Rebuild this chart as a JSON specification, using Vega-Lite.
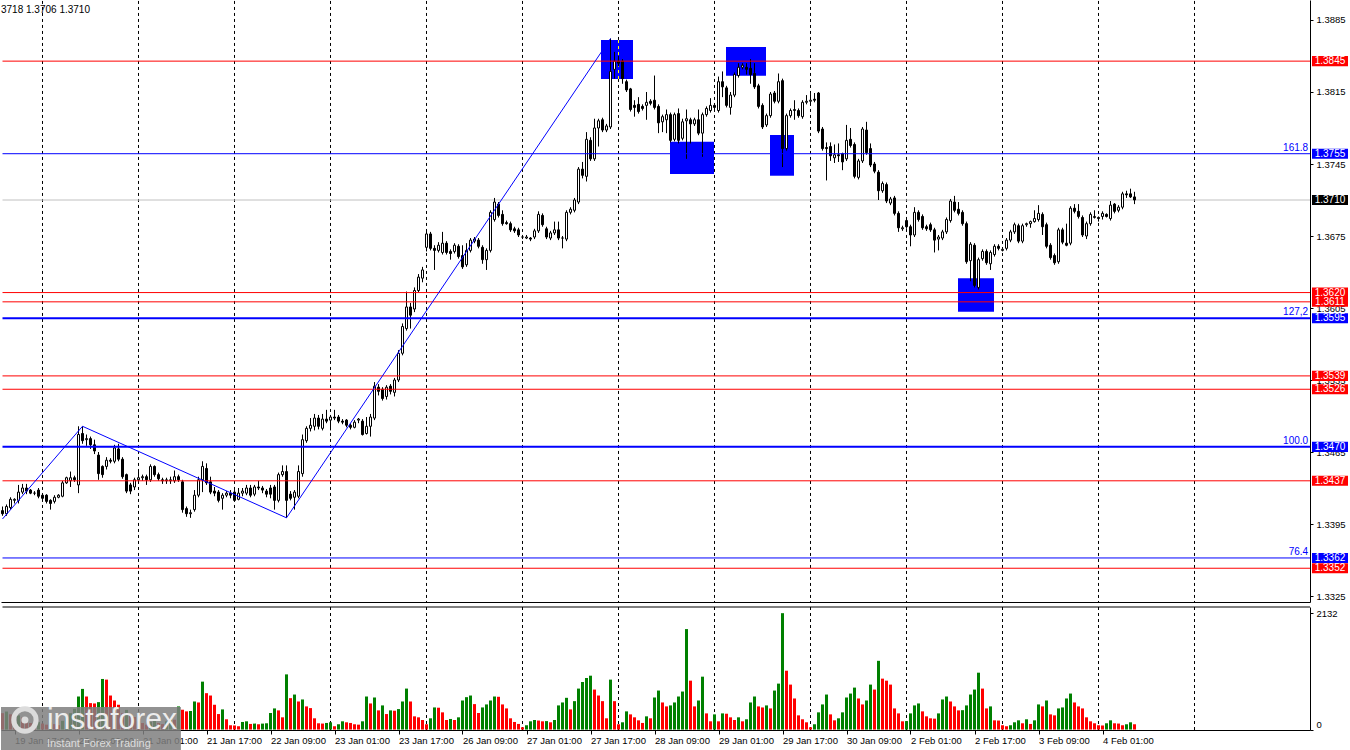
{
"$schema": "https://vega.github.io/schema/vega-lite/v6.json",
"background": "white",
"padding": 0,
"spacing": 3,
"config": {"view": {"stroke": null}, "font": "Liberation Sans",
  "scale": {"continuousPadding": 0},
  "axis": {"labelFont": "Liberation Sans", "labelFontSize": 9.5, "labelColor": "black", "tickColor": "black", "domainColor": "black", "labelOverlap": false, "labelFlush": false, "labelBound": false, "title": null, "grid": false}},
"datasets": {
"bars": [
{"i":0,"o":1.3408,"h":1.3412,"l":1.3403,"c":1.3405,"v":300},
{"i":1,"o":1.3405,"h":1.3414,"l":1.3403,"c":1.3412,"v":330},
{"i":2,"o":1.3411,"h":1.3421,"l":1.3409,"c":1.3419,"v":280},
{"i":3,"o":1.3418,"h":1.3420,"l":1.3415,"c":1.3419,"v":200},
{"i":4,"o":1.3418,"h":1.3433,"l":1.3415,"c":1.3426,"v":260},
{"i":5,"o":1.3426,"h":1.3434,"l":1.3424,"c":1.3430,"v":220},
{"i":6,"o":1.3430,"h":1.3434,"l":1.3424,"c":1.3427,"v":150},
{"i":7,"o":1.3428,"h":1.3429,"l":1.3424,"c":1.3425,"v":120},
{"i":8,"o":1.3425,"h":1.3427,"l":1.3423,"c":1.3425,"v":90},
{"i":9,"o":1.3428,"h":1.3430,"l":1.3420,"c":1.3422,"v":140},
{"i":10,"o":1.3423,"h":1.3424,"l":1.3419,"c":1.3420,"v":110},
{"i":11,"o":1.3423,"h":1.3424,"l":1.3415,"c":1.3417,"v":90},
{"i":12,"o":1.3418,"h":1.3419,"l":1.3409,"c":1.3415,"v":130},
{"i":13,"o":1.3417,"h":1.3423,"l":1.3415,"c":1.3421,"v":100},
{"i":14,"o":1.3421,"h":1.3424,"l":1.3420,"c":1.3423,"v":80},
{"i":15,"o":1.3422,"h":1.3437,"l":1.3421,"c":1.3435,"v":160},
{"i":16,"o":1.3435,"h":1.3441,"l":1.3434,"c":1.3440,"v":250},
{"i":17,"o":1.3437,"h":1.3446,"l":1.3431,"c":1.3440,"v":300},
{"i":18,"o":1.3440,"h":1.3442,"l":1.3436,"c":1.3438,"v":380},
{"i":19,"o":1.3433,"h":1.3490,"l":1.3425,"c":1.3482,"v":605},
{"i":20,"o":1.3483,"h":1.3490,"l":1.3473,"c":1.3476,"v":744},
{"i":21,"o":1.3477,"h":1.3482,"l":1.3471,"c":1.3478,"v":605},
{"i":22,"o":1.3478,"h":1.3480,"l":1.3468,"c":1.3472,"v":484},
{"i":23,"o":1.3472,"h":1.3477,"l":1.3463,"c":1.3466,"v":478},
{"i":24,"o":1.3462,"h":1.3465,"l":1.3438,"c":1.3444,"v":502},
{"i":25,"o":1.3451,"h":1.3452,"l":1.3440,"c":1.3443,"v":926},
{"i":26,"o":1.3451,"h":1.3460,"l":1.3448,"c":1.3457,"v":914},
{"i":27,"o":1.3457,"h":1.3459,"l":1.3454,"c":1.3456,"v":623},
{"i":28,"o":1.3456,"h":1.3472,"l":1.3454,"c":1.3469,"v":532},
{"i":29,"o":1.3468,"h":1.3473,"l":1.3456,"c":1.3458,"v":454},
{"i":30,"o":1.3458,"h":1.3460,"l":1.3439,"c":1.3441,"v":300},
{"i":31,"o":1.3443,"h":1.3444,"l":1.3425,"c":1.3427,"v":360},
{"i":32,"o":1.3433,"h":1.3435,"l":1.3424,"c":1.3427,"v":280},
{"i":33,"o":1.3431,"h":1.3440,"l":1.3428,"c":1.3438,"v":230},
{"i":34,"o":1.3438,"h":1.3446,"l":1.3436,"c":1.3440,"v":150},
{"i":35,"o":1.3440,"h":1.3443,"l":1.3437,"c":1.3441,"v":120},
{"i":36,"o":1.3441,"h":1.3443,"l":1.3433,"c":1.3438,"v":90},
{"i":37,"o":1.3438,"h":1.3453,"l":1.3436,"c":1.3451,"v":140},
{"i":38,"o":1.3451,"h":1.3452,"l":1.3441,"c":1.3443,"v":170},
{"i":39,"o":1.3443,"h":1.3445,"l":1.3437,"c":1.3439,"v":120},
{"i":40,"o":1.3438,"h":1.3440,"l":1.3434,"c":1.3437,"v":100},
{"i":41,"o":1.3437,"h":1.3440,"l":1.3434,"c":1.3438,"v":150},
{"i":42,"o":1.3437,"h":1.3441,"l":1.3434,"c":1.3438,"v":200},
{"i":43,"o":1.3437,"h":1.3447,"l":1.3435,"c":1.3441,"v":180},
{"i":44,"o":1.3441,"h":1.3443,"l":1.3436,"c":1.3438,"v":424},
{"i":45,"o":1.3436,"h":1.3438,"l":1.3406,"c":1.3409,"v":363},
{"i":46,"o":1.3410,"h":1.3412,"l":1.3402,"c":1.3405,"v":333},
{"i":47,"o":1.3405,"h":1.3409,"l":1.3401,"c":1.3406,"v":340},
{"i":48,"o":1.3409,"h":1.3428,"l":1.3407,"c":1.3423,"v":514},
{"i":49,"o":1.3423,"h":1.3441,"l":1.3421,"c":1.3438,"v":496},
{"i":50,"o":1.3438,"h":1.3456,"l":1.3426,"c":1.3451,"v":877},
{"i":51,"o":1.3449,"h":1.3454,"l":1.3433,"c":1.3435,"v":666},
{"i":52,"o":1.3436,"h":1.3441,"l":1.3424,"c":1.3426,"v":623},
{"i":53,"o":1.3427,"h":1.3431,"l":1.3422,"c":1.3425,"v":454},
{"i":54,"o":1.3426,"h":1.3428,"l":1.3416,"c":1.3418,"v":284},
{"i":55,"o":1.3420,"h":1.3425,"l":1.3409,"c":1.3423,"v":369},
{"i":56,"o":1.3423,"h":1.3427,"l":1.3421,"c":1.3425,"v":188},
{"i":57,"o":1.3425,"h":1.3428,"l":1.3420,"c":1.3423,"v":79},
{"i":58,"o":1.3426,"h":1.3428,"l":1.3417,"c":1.3418,"v":75},
{"i":59,"o":1.3419,"h":1.3430,"l":1.3418,"c":1.3425,"v":61},
{"i":60,"o":1.3425,"h":1.3430,"l":1.3422,"c":1.3427,"v":139},
{"i":61,"o":1.3425,"h":1.3433,"l":1.3423,"c":1.3430,"v":151},
{"i":62,"o":1.3430,"h":1.3433,"l":1.3421,"c":1.3423,"v":103},
{"i":63,"o":1.3424,"h":1.3433,"l":1.3422,"c":1.3431,"v":109},
{"i":64,"o":1.3431,"h":1.3437,"l":1.3428,"c":1.3430,"v":97},
{"i":65,"o":1.3430,"h":1.3432,"l":1.3425,"c":1.3428,"v":109},
{"i":66,"o":1.3427,"h":1.3429,"l":1.3421,"c":1.3424,"v":115},
{"i":67,"o":1.3430,"h":1.3433,"l":1.3420,"c":1.3424,"v":303},
{"i":68,"o":1.3431,"h":1.3433,"l":1.3409,"c":1.3418,"v":387},
{"i":69,"o":1.3418,"h":1.3445,"l":1.3416,"c":1.3443,"v":351},
{"i":70,"o":1.3443,"h":1.3452,"l":1.3441,"c":1.3446,"v":224},
{"i":71,"o":1.3446,"h":1.3452,"l":1.3401,"c":1.3418,"v":1010},
{"i":72,"o":1.3424,"h":1.3427,"l":1.3418,"c":1.3420,"v":575},
{"i":73,"o":1.3421,"h":1.3428,"l":1.3409,"c":1.3426,"v":641},
{"i":74,"o":1.3422,"h":1.3452,"l":1.3420,"c":1.3446,"v":514},
{"i":75,"o":1.3444,"h":1.3482,"l":1.3441,"c":1.3477,"v":551},
{"i":76,"o":1.3476,"h":1.3490,"l":1.3474,"c":1.3488,"v":424},
{"i":77,"o":1.3488,"h":1.3498,"l":1.3485,"c":1.3491,"v":393},
{"i":78,"o":1.3490,"h":1.3502,"l":1.3486,"c":1.3498,"v":206},
{"i":79,"o":1.3498,"h":1.3501,"l":1.3487,"c":1.3490,"v":115},
{"i":80,"o":1.3488,"h":1.3502,"l":1.3486,"c":1.3497,"v":110},
{"i":81,"o":1.3497,"h":1.3506,"l":1.3493,"c":1.3495,"v":121},
{"i":82,"o":1.3496,"h":1.3501,"l":1.3486,"c":1.3499,"v":133},
{"i":83,"o":1.3499,"h":1.3506,"l":1.3496,"c":1.3498,"v":61},
{"i":84,"o":1.3499,"h":1.3501,"l":1.3493,"c":1.3495,"v":97},
{"i":85,"o":1.3495,"h":1.3497,"l":1.3492,"c":1.3494,"v":151},
{"i":86,"o":1.3496,"h":1.3497,"l":1.3489,"c":1.3491,"v":133},
{"i":87,"o":1.3491,"h":1.3493,"l":1.3487,"c":1.3489,"v":121},
{"i":88,"o":1.3489,"h":1.3496,"l":1.3488,"c":1.3494,"v":97},
{"i":89,"o":1.3496,"h":1.3498,"l":1.3493,"c":1.3497,"v":90},
{"i":90,"o":1.3495,"h":1.3497,"l":1.3481,"c":1.3482,"v":151},
{"i":91,"o":1.3483,"h":1.3499,"l":1.3482,"c":1.3490,"v":605},
{"i":92,"o":1.3490,"h":1.3502,"l":1.3480,"c":1.3499,"v":478},
{"i":93,"o":1.3498,"h":1.3533,"l":1.3496,"c":1.3529,"v":587},
{"i":94,"o":1.3528,"h":1.3531,"l":1.3520,"c":1.3524,"v":351},
{"i":95,"o":1.3526,"h":1.3528,"l":1.3515,"c":1.3517,"v":442},
{"i":96,"o":1.3519,"h":1.3530,"l":1.3516,"c":1.3528,"v":284},
{"i":97,"o":1.3529,"h":1.3531,"l":1.3521,"c":1.3524,"v":351},
{"i":98,"o":1.3523,"h":1.3537,"l":1.3519,"c":1.3535,"v":345},
{"i":99,"o":1.3535,"h":1.3564,"l":1.3533,"c":1.3561,"v":375},
{"i":100,"o":1.3561,"h":1.3590,"l":1.3559,"c":1.3587,"v":514},
{"i":101,"o":1.3585,"h":1.3621,"l":1.3583,"c":1.3606,"v":750},
{"i":102,"o":1.3606,"h":1.3610,"l":1.3585,"c":1.3598,"v":514},
{"i":103,"o":1.3604,"h":1.3625,"l":1.3601,"c":1.3622,"v":242},
{"i":104,"o":1.3622,"h":1.3638,"l":1.3620,"c":1.3635,"v":224},
{"i":105,"o":1.3634,"h":1.3645,"l":1.3630,"c":1.3642,"v":175},
{"i":106,"o":1.3664,"h":1.3679,"l":1.3660,"c":1.3677,"v":97},
{"i":107,"o":1.3677,"h":1.3679,"l":1.3661,"c":1.3663,"v":206},
{"i":108,"o":1.3663,"h":1.3666,"l":1.3642,"c":1.3661,"v":405},
{"i":109,"o":1.3661,"h":1.3669,"l":1.3659,"c":1.3666,"v":400},
{"i":110,"o":1.3659,"h":1.3679,"l":1.3657,"c":1.3668,"v":315},
{"i":111,"o":1.3668,"h":1.3670,"l":1.3657,"c":1.3659,"v":175},
{"i":112,"o":1.3660,"h":1.3662,"l":1.3652,"c":1.3658,"v":194},
{"i":113,"o":1.3660,"h":1.3668,"l":1.3658,"c":1.3666,"v":175},
{"i":114,"o":1.3665,"h":1.3667,"l":1.3653,"c":1.3655,"v":224},
{"i":115,"o":1.3656,"h":1.3666,"l":1.3643,"c":1.3645,"v":532},
{"i":116,"o":1.3647,"h":1.3668,"l":1.3645,"c":1.3661,"v":593},
{"i":117,"o":1.3661,"h":1.3673,"l":1.3659,"c":1.3671,"v":623},
{"i":118,"o":1.3670,"h":1.3674,"l":1.3668,"c":1.3672,"v":466},
{"i":119,"o":1.3671,"h":1.3673,"l":1.3663,"c":1.3665,"v":303},
{"i":120,"o":1.3664,"h":1.3666,"l":1.3648,"c":1.3652,"v":405},
{"i":121,"o":1.3652,"h":1.3663,"l":1.3642,"c":1.3661,"v":460},
{"i":122,"o":1.3661,"h":1.3700,"l":1.3659,"c":1.3698,"v":532},
{"i":123,"o":1.3691,"h":1.3712,"l":1.3689,"c":1.3708,"v":605},
{"i":124,"o":1.3706,"h":1.3708,"l":1.3693,"c":1.3695,"v":600},
{"i":125,"o":1.3696,"h":1.3700,"l":1.3685,"c":1.3687,"v":460},
{"i":126,"o":1.3688,"h":1.3690,"l":1.3686,"c":1.3687,"v":387},
{"i":127,"o":1.3687,"h":1.3689,"l":1.3679,"c":1.3681,"v":206},
{"i":128,"o":1.3682,"h":1.3684,"l":1.3678,"c":1.3680,"v":139},
{"i":129,"o":1.3681,"h":1.3683,"l":1.3674,"c":1.3676,"v":103},
{"i":130,"o":1.3674,"h":1.3676,"l":1.3672,"c":1.3674,"v":42},
{"i":131,"o":1.3673,"h":1.3676,"l":1.3672,"c":1.3674,"v":79},
{"i":132,"o":1.3673,"h":1.3674,"l":1.3670,"c":1.3672,"v":151},
{"i":133,"o":1.3674,"h":1.3682,"l":1.3672,"c":1.3680,"v":175},
{"i":134,"o":1.3680,"h":1.3699,"l":1.3678,"c":1.3696,"v":165},
{"i":135,"o":1.3695,"h":1.3697,"l":1.3684,"c":1.3686,"v":151},
{"i":136,"o":1.3682,"h":1.3684,"l":1.3672,"c":1.3674,"v":155},
{"i":137,"o":1.3673,"h":1.3680,"l":1.3671,"c":1.3678,"v":133},
{"i":138,"o":1.3678,"h":1.3689,"l":1.3676,"c":1.3681,"v":175},
{"i":139,"o":1.3681,"h":1.3689,"l":1.3671,"c":1.3673,"v":442},
{"i":140,"o":1.3673,"h":1.3675,"l":1.3663,"c":1.3673,"v":496},
{"i":141,"o":1.3672,"h":1.3700,"l":1.3670,"c":1.3698,"v":581},
{"i":142,"o":1.3698,"h":1.3703,"l":1.3696,"c":1.3701,"v":369},
{"i":143,"o":1.3700,"h":1.3712,"l":1.3698,"c":1.3710,"v":520},
{"i":144,"o":1.3708,"h":1.3742,"l":1.3706,"c":1.3740,"v":750},
{"i":145,"o":1.3740,"h":1.3747,"l":1.3731,"c":1.3734,"v":871},
{"i":146,"o":1.3733,"h":1.3776,"l":1.3728,"c":1.3769,"v":944},
{"i":147,"o":1.3768,"h":1.3771,"l":1.3748,"c":1.3750,"v":986},
{"i":148,"o":1.3750,"h":1.3789,"l":1.3748,"c":1.3780,"v":732},
{"i":149,"o":1.3780,"h":1.3789,"l":1.3762,"c":1.3787,"v":623},
{"i":150,"o":1.3788,"h":1.3790,"l":1.3776,"c":1.3778,"v":520},
{"i":151,"o":1.3778,"h":1.3784,"l":1.3776,"c":1.3782,"v":206},
{"i":152,"o":1.3781,"h":1.3867,"l":1.3779,"c":1.3835,"v":914},
{"i":153,"o":1.3837,"h":1.3854,"l":1.3828,"c":1.3845,"v":520},
{"i":154,"o":1.3845,"h":1.3850,"l":1.3840,"c":1.3843,"v":97},
{"i":155,"o":1.3845,"h":1.3847,"l":1.3823,"c":1.3828,"v":133},
{"i":156,"o":1.3825,"h":1.3827,"l":1.3815,"c":1.3817,"v":333},
{"i":157,"o":1.3818,"h":1.3819,"l":1.3796,"c":1.3798,"v":278},
{"i":158,"o":1.3802,"h":1.3807,"l":1.3791,"c":1.3800,"v":224},
{"i":159,"o":1.3803,"h":1.3810,"l":1.3794,"c":1.3796,"v":169},
{"i":160,"o":1.3801,"h":1.3803,"l":1.3797,"c":1.3799,"v":121},
{"i":161,"o":1.3802,"h":1.3815,"l":1.3788,"c":1.3805,"v":242},
{"i":162,"o":1.3806,"h":1.3808,"l":1.3802,"c":1.3804,"v":206},
{"i":163,"o":1.3807,"h":1.3831,"l":1.3798,"c":1.3800,"v":587},
{"i":164,"o":1.3801,"h":1.3803,"l":1.3775,"c":1.3785,"v":714},
{"i":165,"o":1.3786,"h":1.3793,"l":1.3776,"c":1.3791,"v":496},
{"i":166,"o":1.3788,"h":1.3798,"l":1.3775,"c":1.3793,"v":424},
{"i":167,"o":1.3793,"h":1.3795,"l":1.3766,"c":1.3768,"v":442},
{"i":168,"o":1.3769,"h":1.3795,"l":1.3767,"c":1.3793,"v":496},
{"i":169,"o":1.3794,"h":1.3799,"l":1.3765,"c":1.3768,"v":605},
{"i":170,"o":1.3770,"h":1.3789,"l":1.3768,"c":1.3786,"v":696},
{"i":171,"o":1.3787,"h":1.3798,"l":1.3750,"c":1.3789,"v":1839},
{"i":172,"o":1.3788,"h":1.3790,"l":1.3765,"c":1.3784,"v":895},
{"i":173,"o":1.3784,"h":1.3790,"l":1.3782,"c":1.3788,"v":424},
{"i":174,"o":1.3788,"h":1.3798,"l":1.3773,"c":1.3775,"v":532},
{"i":175,"o":1.3775,"h":1.3795,"l":1.3752,"c":1.3793,"v":968},
{"i":176,"o":1.3793,"h":1.3801,"l":1.3791,"c":1.3799,"v":296},
{"i":177,"o":1.3797,"h":1.3809,"l":1.3795,"c":1.3802,"v":151},
{"i":178,"o":1.3802,"h":1.3804,"l":1.3798,"c":1.3800,"v":278},
{"i":179,"o":1.3797,"h":1.3830,"l":1.3795,"c":1.3825,"v":151},
{"i":180,"o":1.3825,"h":1.3835,"l":1.3810,"c":1.3820,"v":296},
{"i":181,"o":1.3819,"h":1.3821,"l":1.3800,"c":1.3802,"v":290},
{"i":182,"o":1.3800,"h":1.3815,"l":1.3793,"c":1.3812,"v":224},
{"i":183,"o":1.3812,"h":1.3834,"l":1.3810,"c":1.3832,"v":175},
{"i":184,"o":1.3831,"h":1.3843,"l":1.3829,"c":1.3839,"v":224},
{"i":185,"o":1.3839,"h":1.3843,"l":1.3837,"c":1.3841,"v":151},
{"i":186,"o":1.3839,"h":1.3843,"l":1.3832,"c":1.3837,"v":188},
{"i":187,"o":1.3838,"h":1.3847,"l":1.3823,"c":1.3832,"v":496},
{"i":188,"o":1.3833,"h":1.3843,"l":1.3818,"c":1.3820,"v":605},
{"i":189,"o":1.3821,"h":1.3823,"l":1.3799,"c":1.3801,"v":424},
{"i":190,"o":1.3802,"h":1.3804,"l":1.3779,"c":1.3781,"v":405},
{"i":191,"o":1.3783,"h":1.3794,"l":1.3781,"c":1.3792,"v":442},
{"i":192,"o":1.3792,"h":1.3815,"l":1.3790,"c":1.3813,"v":387},
{"i":193,"o":1.3814,"h":1.3816,"l":1.3804,"c":1.3806,"v":714},
{"i":194,"o":1.3806,"h":1.3833,"l":1.3804,"c":1.3825,"v":841},
{"i":195,"o":1.3826,"h":1.3828,"l":1.3742,"c":1.3760,"v":2130},
{"i":196,"o":1.3760,"h":1.3794,"l":1.3758,"c":1.3792,"v":1077},
{"i":197,"o":1.3792,"h":1.3799,"l":1.3790,"c":1.3797,"v":823},
{"i":198,"o":1.3797,"h":1.3807,"l":1.3788,"c":1.3798,"v":569},
{"i":199,"o":1.3797,"h":1.3799,"l":1.3790,"c":1.3792,"v":260},
{"i":200,"o":1.3791,"h":1.3807,"l":1.3789,"c":1.3805,"v":188},
{"i":201,"o":1.3805,"h":1.3812,"l":1.3803,"c":1.3806,"v":133},
{"i":202,"o":1.3806,"h":1.3813,"l":1.3804,"c":1.3807,"v":42},
{"i":203,"o":1.3808,"h":1.3814,"l":1.3805,"c":1.3807,"v":97},
{"i":204,"o":1.3814,"h":1.3815,"l":1.3775,"c":1.3777,"v":315},
{"i":205,"o":1.3779,"h":1.3781,"l":1.3758,"c":1.3760,"v":460},
{"i":206,"o":1.3761,"h":1.3766,"l":1.3729,"c":1.3760,"v":641},
{"i":207,"o":1.3762,"h":1.3766,"l":1.3748,"c":1.3753,"v":278},
{"i":208,"o":1.3751,"h":1.3764,"l":1.3746,"c":1.3754,"v":169},
{"i":209,"o":1.3754,"h":1.3765,"l":1.3747,"c":1.3753,"v":206},
{"i":210,"o":1.3755,"h":1.3756,"l":1.3739,"c":1.3747,"v":315},
{"i":211,"o":1.3750,"h":1.3783,"l":1.3748,"c":1.3768,"v":587},
{"i":212,"o":1.3769,"h":1.3780,"l":1.3761,"c":1.3763,"v":659},
{"i":213,"o":1.3764,"h":1.3766,"l":1.3731,"c":1.3733,"v":768},
{"i":214,"o":1.3732,"h":1.3750,"l":1.3730,"c":1.3748,"v":569},
{"i":215,"o":1.3748,"h":1.3781,"l":1.3746,"c":1.3779,"v":460},
{"i":216,"o":1.3778,"h":1.3786,"l":1.3754,"c":1.3756,"v":532},
{"i":217,"o":1.3760,"h":1.3765,"l":1.3742,"c":1.3744,"v":823},
{"i":218,"o":1.3745,"h":1.3747,"l":1.3736,"c":1.3738,"v":732},
{"i":219,"o":1.3737,"h":1.3739,"l":1.3710,"c":1.3719,"v":1258},
{"i":220,"o":1.3719,"h":1.3728,"l":1.3717,"c":1.3726,"v":932},
{"i":221,"o":1.3725,"h":1.3727,"l":1.3707,"c":1.3709,"v":895},
{"i":222,"o":1.3707,"h":1.3713,"l":1.3705,"c":1.3711,"v":823},
{"i":223,"o":1.3712,"h":1.3714,"l":1.3695,"c":1.3697,"v":387},
{"i":224,"o":1.3697,"h":1.3699,"l":1.3679,"c":1.3683,"v":296},
{"i":225,"o":1.3682,"h":1.3685,"l":1.3680,"c":1.3683,"v":151},
{"i":226,"o":1.3690,"h":1.3692,"l":1.3682,"c":1.3684,"v":155},
{"i":227,"o":1.3684,"h":1.3686,"l":1.3665,"c":1.3676,"v":296},
{"i":228,"o":1.3676,"h":1.3703,"l":1.3674,"c":1.3698,"v":442},
{"i":229,"o":1.3698,"h":1.3700,"l":1.3689,"c":1.3691,"v":478},
{"i":230,"o":1.3694,"h":1.3696,"l":1.3681,"c":1.3683,"v":333},
{"i":231,"o":1.3684,"h":1.3686,"l":1.3680,"c":1.3682,"v":242},
{"i":232,"o":1.3686,"h":1.3688,"l":1.3679,"c":1.3681,"v":206},
{"i":233,"o":1.3681,"h":1.3683,"l":1.3659,"c":1.3671,"v":200},
{"i":234,"o":1.3672,"h":1.3676,"l":1.3661,"c":1.3674,"v":296},
{"i":235,"o":1.3673,"h":1.3681,"l":1.3671,"c":1.3679,"v":551},
{"i":236,"o":1.3679,"h":1.3693,"l":1.3677,"c":1.3691,"v":605},
{"i":237,"o":1.3690,"h":1.3711,"l":1.3688,"c":1.3709,"v":514},
{"i":238,"o":1.3708,"h":1.3714,"l":1.3698,"c":1.3700,"v":424},
{"i":239,"o":1.3701,"h":1.3708,"l":1.3695,"c":1.3697,"v":351},
{"i":240,"o":1.3698,"h":1.3700,"l":1.3685,"c":1.3687,"v":355},
{"i":241,"o":1.3687,"h":1.3689,"l":1.3648,"c":1.3650,"v":442},
{"i":242,"o":1.3651,"h":1.3669,"l":1.3631,"c":1.3667,"v":641},
{"i":243,"o":1.3666,"h":1.3668,"l":1.3625,"c":1.3627,"v":732},
{"i":244,"o":1.3625,"h":1.3654,"l":1.3623,"c":1.3652,"v":1041},
{"i":245,"o":1.3653,"h":1.3662,"l":1.3651,"c":1.3660,"v":750},
{"i":246,"o":1.3660,"h":1.3662,"l":1.3647,"c":1.3649,"v":387},
{"i":247,"o":1.3648,"h":1.3661,"l":1.3642,"c":1.3659,"v":424},
{"i":248,"o":1.3657,"h":1.3667,"l":1.3655,"c":1.3665,"v":169},
{"i":249,"o":1.3665,"h":1.3667,"l":1.3661,"c":1.3663,"v":165},
{"i":250,"o":1.3661,"h":1.3663,"l":1.3660,"c":1.3662,"v":79},
{"i":251,"o":1.3663,"h":1.3673,"l":1.3661,"c":1.3671,"v":61},
{"i":252,"o":1.3671,"h":1.3681,"l":1.3669,"c":1.3679,"v":79},
{"i":253,"o":1.3679,"h":1.3688,"l":1.3677,"c":1.3686,"v":133},
{"i":254,"o":1.3685,"h":1.3687,"l":1.3668,"c":1.3670,"v":169},
{"i":255,"o":1.3670,"h":1.3687,"l":1.3668,"c":1.3685,"v":115},
{"i":256,"o":1.3686,"h":1.3688,"l":1.3684,"c":1.3687,"v":188},
{"i":257,"o":1.3687,"h":1.3690,"l":1.3683,"c":1.3689,"v":103},
{"i":258,"o":1.3689,"h":1.3700,"l":1.3688,"c":1.3692,"v":169},
{"i":259,"o":1.3691,"h":1.3705,"l":1.3689,"c":1.3697,"v":460},
{"i":260,"o":1.3696,"h":1.3698,"l":1.3676,"c":1.3684,"v":424},
{"i":261,"o":1.3686,"h":1.3688,"l":1.3663,"c":1.3665,"v":532},
{"i":262,"o":1.3666,"h":1.3668,"l":1.3652,"c":1.3654,"v":278},
{"i":263,"o":1.3656,"h":1.3658,"l":1.3647,"c":1.3649,"v":260},
{"i":264,"o":1.3650,"h":1.3683,"l":1.3648,"c":1.3681,"v":387},
{"i":265,"o":1.3681,"h":1.3683,"l":1.3667,"c":1.3669,"v":405},
{"i":266,"o":1.3668,"h":1.3687,"l":1.3665,"c":1.3666,"v":569},
{"i":267,"o":1.3668,"h":1.3704,"l":1.3666,"c":1.3702,"v":659},
{"i":268,"o":1.3702,"h":1.3706,"l":1.3697,"c":1.3699,"v":496},
{"i":269,"o":1.3699,"h":1.3706,"l":1.3692,"c":1.3694,"v":424},
{"i":270,"o":1.3693,"h":1.3695,"l":1.3674,"c":1.3676,"v":387},
{"i":271,"o":1.3675,"h":1.3689,"l":1.3672,"c":1.3687,"v":224},
{"i":272,"o":1.3687,"h":1.3698,"l":1.3685,"c":1.3696,"v":151},
{"i":273,"o":1.3693,"h":1.3700,"l":1.3692,"c":1.3694,"v":115},
{"i":274,"o":1.3693,"h":1.3694,"l":1.3689,"c":1.3692,"v":79},
{"i":275,"o":1.3694,"h":1.3699,"l":1.3691,"c":1.3697,"v":75},
{"i":276,"o":1.3696,"h":1.3697,"l":1.3693,"c":1.3694,"v":115},
{"i":277,"o":1.3692,"h":1.3709,"l":1.3690,"c":1.3705,"v":169},
{"i":278,"o":1.3706,"h":1.3707,"l":1.3697,"c":1.3699,"v":115},
{"i":279,"o":1.3700,"h":1.3705,"l":1.3698,"c":1.3703,"v":110},
{"i":280,"o":1.3703,"h":1.3718,"l":1.3701,"c":1.3716,"v":79},
{"i":281,"o":1.3716,"h":1.3719,"l":1.3712,"c":1.3715,"v":97},
{"i":282,"o":1.3716,"h":1.3721,"l":1.3712,"c":1.3713,"v":133},
{"i":283,"o":1.3713,"h":1.3718,"l":1.3706,"c":1.3710,"v":97}
],
"grid": [{"g":10},{"g":34},{"g":58},{"g":82},{"g":106},{"g":130},{"g":154},{"g":178},{"g":202},{"g":226},{"g":250},{"g":274},{"g":298}],
"lv": [
{"p":1.3845,"k":"lvl"},{"p":1.3620,"k":"lvl"},{"p":1.3611,"k":"lvl"},{"p":1.3539,"k":"lvl"},{"p":1.3526,"k":"lvl"},{"p":1.3437,"k":"lvl"},{"p":1.3352,"k":"lvl"},
{"p":1.3755,"k":"fib","f":"161.8"},{"p":1.3595,"k":"fib","f":"127,2"},{"p":1.3470,"k":"fib","f":"100.0"},{"p":1.3362,"k":"fib","f":"76.4"},
{"p":1.3710,"k":"bid"}
],
"zz": [{"i":0,"p":1.33999},{"i":20,"p":1.3490},{"i":71,"p":1.3401},{"i":152,"p":1.3867}],
"rc": [
{"a":149.625,"b":157.625,"lo":1.38276,"hi":1.38656},
{"a":180.875,"b":190.875,"lo":1.38308,"hi":1.38587},
{"a":166.875,"b":177.875,"lo":1.37353,"hi":1.37667},
{"a":191.875,"b":197.875,"lo":1.37336,"hi":1.37732},
{"a":238.875,"b":247.875,"lo":1.36014,"hi":1.36339}
]
},
"vconcat": [
{
"width": 1309, "height": 602,
"layer": [
{"data": {"name": "grid"}, "mark": {"type": "rule", "color": "black", "strokeDash": [3,3], "strokeWidth": 1},
 "encoding": {"x": {"field": "g", "type": "quantitative", "scale": {"domain": [-0.375, 326.875], "nice": false, "zero": false, "padding": 0},
   "axis": {"orient": "bottom", "labels": false, "ticks": false, "domain": true}},
   "y": {"datum": 1.39035}, "y2": {"datum": 1.331918}}},
{"data": {"name": "rc"}, "mark": {"type": "rect", "color": "#0000FF"},
 "encoding": {"x": {"field": "a", "type": "quantitative"}, "x2": {"field": "b"}, "y": {"field": "lo", "type": "quantitative"}, "y2": {"field": "hi"}}},
{"data": {"values": [{}]}, "mark": {"type": "rule", "color": "#FFFF00", "strokeDash": [3,3]},
 "encoding": {"x": {"datum": 154}, "y": {"datum": 1.38276}, "y2": {"datum": 1.38656}}},
{"data": {"values": [{}]}, "mark": {"type": "rule", "color": "#C0C0C0", "strokeWidth": 1},
 "encoding": {"y": {"datum": 1.371}, "x": {"datum": 0}, "x2": {"datum": 326.875}}},
{"data": {"name": "bars"}, "mark": {"type": "rule", "color": "black", "strokeWidth": 1},
 "encoding": {"x": {"field": "i", "type": "quantitative"},
   "y": {"field": "l", "type": "quantitative", "scale": {"domain": [1.331918, 1.390444], "nice": false, "zero": false, "padding": 0},
     "axis": {"orient": "right", "values": [1.3325,1.3360,1.3395,1.3430,1.3465,1.3500,1.3535,1.3570,1.3605,1.3640,1.3675,1.3710,1.3745,1.3780,1.3815,1.3850,1.3885], "format": ".4f", "tickSize": 3, "labelPadding": 3, "domain": true}},
   "y2": {"field": "h"}}},
{"data": {"name": "bars"}, "mark": {"type": "bar", "width": 2, "stroke": "black", "strokeWidth": 1},
 "encoding": {"x": {"field": "i", "type": "quantitative"}, "y": {"field": "o", "type": "quantitative"}, "y2": {"field": "c"},
   "fill": {"condition": {"test": "datum.c >= datum.o", "value": "white"}, "value": "black"}}},
{"data": {"name": "lv"}, "transform": [{"filter": "datum.k != 'bid'"}], "mark": {"type": "rule"},
 "encoding": {"y": {"field": "p", "type": "quantitative"}, "x": {"datum": 0}, "x2": {"datum": 326.875},
   "color": {"condition": {"test": "datum.k == 'lvl'", "value": "#FF0000"}, "value": "#0000FF"},
   "strokeWidth": {"condition": {"test": "datum.f == '100.0' || datum.f == '127,2'", "value": 2}, "value": 1}}},
{"data": {"name": "zz"}, "mark": {"type": "line", "color": "#0000FF", "strokeWidth": 1},
 "encoding": {"x": {"field": "i", "type": "quantitative"}, "y": {"field": "p", "type": "quantitative"}}},
{"data": {"name": "lv"}, "transform": [{"filter": "datum.k == 'fib'"}],
 "mark": {"type": "text", "align": "right", "baseline": "bottom", "dy": -1, "fontSize": 10, "font": "Liberation Sans", "color": "#0000FF"},
 "encoding": {"x": {"datum": 326.4}, "y": {"field": "p", "type": "quantitative"}, "text": {"field": "f"}}},
{"data": {"name": "lv"}, "mark": {"type": "point", "shape": "M-1,-0.28H1V0.28H-1Z", "size": 1296, "filled": true, "opacity": 1, "strokeWidth": 0},
 "encoding": {"x": {"datum": 331.875}, "y": {"field": "p", "type": "quantitative"},
   "color": {"condition": [{"test": "datum.k == 'lvl'", "value": "#FF0000"}, {"test": "datum.k == 'bid'", "value": "#000000"}], "value": "#0000FF"}}},
{"data": {"name": "lv"}, "mark": {"type": "text", "color": "white", "fontSize": 10, "font": "Liberation Sans", "align": "center", "baseline": "middle"},
 "encoding": {"x": {"datum": 331.875}, "y": {"field": "p", "type": "quantitative"}, "text": {"field": "p", "format": ".4f"}}},
{"data": {"values": [{}]}, "mark": {"type": "text", "align": "left", "baseline": "middle", "fontSize": 10, "font": "Liberation Sans", "color": "black", "text": "3718 1.3706 1.3710"},
 "encoding": {"x": {"datum": -0.375}, "y": {"datum": 1.38947}}}
]
},
{
"width": 1309, "height": 123,
"layer": [
{"data": {"name": "grid"}, "mark": {"type": "rule", "color": "black", "strokeDash": [3,3], "strokeWidth": 1},
 "encoding": {"x": {"field": "g", "type": "quantitative", "scale": {"domain": [-0.375, 326.875], "nice": false, "zero": false, "padding": 0},
   "axis": {"orient": "bottom", "values": [3,19,35,51,67,83,99,115,131,147,163,179,195,211,227,243,259,275],
     "labelExpr": "['19 Jan 17:00','20 Jan 09:00','21 Jan 01:00','21 Jan 17:00','22 Jan 09:00','23 Jan 01:00','23 Jan 17:00','26 Jan 09:00','27 Jan 01:00','27 Jan 17:00','28 Jan 09:00','29 Jan 01:00','29 Jan 17:00','30 Jan 09:00','2 Feb 01:00','2 Feb 17:00','3 Feb 09:00','4 Feb 01:00'][(datum.value-3)/16]",
     "labelAlign": "left", "labelBaseline": "top", "labelPadding": 1, "tickSize": 4, "domain": true, "labelFontSize": 9.5}}}},
{"data": {"values": [{}]}, "mark": {"type": "rule", "color": "black", "strokeWidth": 1},
 "encoding": {"y": {"datum": 2243}, "x": {"datum": 0}, "x2": {"datum": 326.875}}},
{"data": {"name": "bars"}, "transform": [{"window": [{"op": "lag", "field": "v", "as": "pv"}], "sort": [{"field": "i", "order": "ascending"}]}],
 "mark": {"type": "bar", "width": 3},
 "encoding": {"x": {"field": "i", "type": "quantitative"},
   "y": {"field": "v", "type": "quantitative", "scale": {"domain": [-8, 2243], "nice": false, "zero": false, "padding": 0},
     "axis": {"orient": "right", "values": [0, 2132], "format": "d", "tickSize": 3, "labelPadding": 3, "domain": true,
       "labelBaseline": {"condition": {"test": "datum.value == 0", "value": "bottom"}, "value": "middle"}}},
   "y2": {"datum": 0},
   "color": {"condition": {"test": "datum.pv != null && datum.v > datum.pv", "value": "#008000"}, "value": "#FF0000"}}},
{"data": {"values": [{}]}, "mark": {"type": "rect", "color": "#7f7f7f", "opacity": 0.85},
 "encoding": {"x": {"datum": -0.375}, "x2": {"datum": 44.6}, "y": {"datum": 413}, "y2": {"datum": -411}}},
{"data": {"values": [{}]}, "mark": {"type": "point", "shape": "circle", "size": 500, "filled": false, "stroke": "#dcdcdc", "strokeWidth": 5, "opacity": 1},
 "encoding": {"x": {"datum": 5.6}, "y": {"datum": 175}}},
{"data": {"values": [{}]}, "mark": {"type": "point", "shape": "circle", "size": 50, "filled": true, "color": "#dcdcdc", "opacity": 1},
 "encoding": {"x": {"datum": 5.6}, "y": {"datum": 175}}},
{"data": {"values": [{}]}, "mark": {"type": "text", "text": "instaforex", "font": "Liberation Sans", "fontSize": 30, "color": "#ececec", "align": "left", "baseline": "alphabetic"},
 "encoding": {"x": {"datum": 11.1}, "y": {"datum": 10}}},
{"data": {"values": [{}]}, "mark": {"type": "text", "text": "Instant Forex Trading", "font": "Liberation Sans", "fontSize": 11, "color": "#dcdcdc", "align": "left", "baseline": "alphabetic"},
 "encoding": {"x": {"datum": 11.1}, "y": {"datum": -319}}}
]
}
]
}
